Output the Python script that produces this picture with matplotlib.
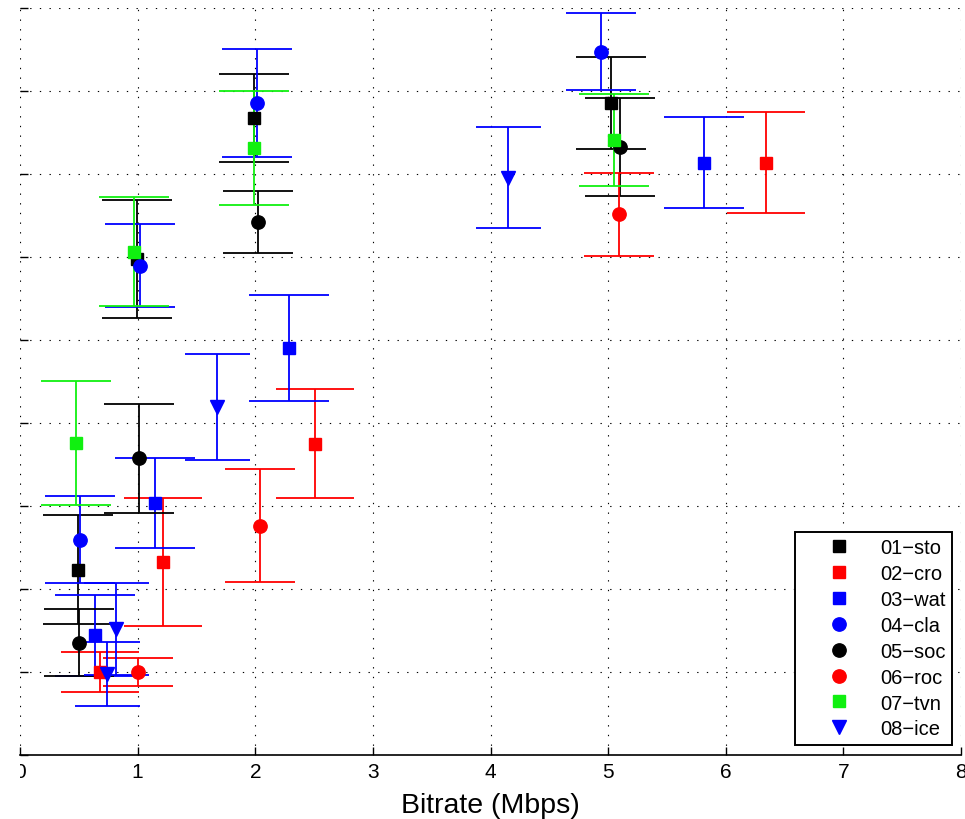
import matplotlib
matplotlib.use("Agg")
import matplotlib.pyplot as plt
from matplotlib.lines import Line2D
from matplotlib.transforms import Bbox, TransformedBbox

plt.rcParams["font.family"] = ["Liberation Sans", "DejaVu Sans"]

# bitrate (Mbps), quality score, error half-width for each sequence
sto_rate = [0.495, 0.998, 1.99, 5.025]
sto_score = [22.3, 59.7, 76.7, 78.5]
sto_err = [6.58, 7.06, 5.34, 5.52]

cro_rate = [0.68, 1.215, 2.508, 6.34]
cro_score = [9.96, 23.2, 37.45, 71.3]
cro_err = [2.41, 7.71, 6.56, 6.08]

wat_rate = [0.64, 1.147, 2.284, 5.818]
wat_score = [14.36, 30.3, 49.0, 71.3]
wat_err = [4.88, 5.40, 6.35, 5.48]

cla_rate = [0.509, 1.02, 2.012, 4.94]
cla_score = [25.9, 58.9, 78.5, 84.7]
cla_err = [5.24, 4.97, 6.56, 4.61]

soc_rate = [0.503, 1.011, 2.026, 5.10]
soc_score = [13.5, 35.7, 64.2, 73.2]
soc_err = [4.04, 6.54, 3.71, 5.94]

roc_rate = [1.005, 2.04, 5.093]
roc_score = [9.96, 27.6, 65.1]
roc_err = [1.69, 6.83, 4.97]

tvn_rate = [0.475, 0.969, 1.989, 5.048]
tvn_score = [37.5, 60.6, 73.1, 74.0]
tvn_err = [7.47, 6.56, 6.89, 5.54]

ice_rate = [0.741, 0.813, 1.672, 4.149]
ice_score = [9.72, 15.1, 41.9, 69.5]
ice_err = [3.85, 5.54, 6.35, 6.11]

GREEN = "#10f010"
series = [
    ("01\u2212sto", sto_rate, sto_score, sto_err, "k", "s", 8.4, 25.2),
    ("02\u2212cro", cro_rate, cro_score, cro_err, "#ff0000", "s", 8.4, 28.2),
    ("03\u2212wat", wat_rate, wat_score, wat_err, "#0000ff", "s", 8.4, 29.0),
    ("04\u2212cla", cla_rate, cla_score, cla_err, "#0000ff", "o", 9.6, 25.0),
    ("05\u2212soc", soc_rate, soc_score, soc_err, "k", "o", 9.6, 25.4),
    ("06\u2212roc", roc_rate, roc_score, roc_err, "#ff0000", "o", 9.6, 25.2),
    ("07\u2212tvn", tvn_rate, tvn_score, tvn_err, GREEN, "s", 8.4, 25.2),
    ("08\u2212ice", ice_rate, ice_score, ice_err, "#0000ff", "v", 10.5, 23.4),
]

fig = plt.figure(figsize=(9.65, 8.2), dpi=100)
fig.set_facecolor("white")
ax = fig.add_axes([0.0208, 0.0784, 0.975, 0.9112])

handles = []
for name, x, y, e, col, mk, ms, cap in series:
    ax.errorbar(x, y, yerr=e, fmt=mk, color=col, ecolor=col, ms=ms,
                mec=col, mfc=col, elinewidth=1.3, capsize=cap, capthick=1.3)
    handles.append(Line2D([], [], ls="none", marker=mk, color=col,
                          ms=ms, mec=col, mfc=col))

ax.set_xlim(0, 8)
ax.set_ylim(0, 90)
ax.set_xticks(range(0, 9))
ax.set_yticks(range(0, 91, 10))
ax.grid(True, color="k", lw=0.8, ls=(0, (1.2, 7.5)))
ax.set_axisbelow(True)
ax.tick_params(direction="in", length=6, width=1, labelsize=15, pad=5,
               labelleft=False)
for side in ("top", "right", "left"):
    ax.spines[side].set_visible(False)
ax.spines["bottom"].set_linewidth(1.2)
ax.set_xlabel("Bitrate (Mbps)", fontsize=20.5, labelpad=8)

# the "0" label sits on the left edge of the plot area: cut it there
zero_lbl = ax.xaxis.get_major_ticks()[0].label1
zero_lbl.set_clip_box(TransformedBbox(Bbox([[0, -1], [1, 1]]), ax.transAxes))
zero_lbl.set_clip_on(True)

leg = ax.legend(handles, [s[0] for s in series], loc="lower right",
                bbox_to_anchor=(0.9904, 0.013), fontsize=14.5,
                frameon=True, fancybox=False, framealpha=1,
                handlelength=3.8, handletextpad=0.1, labelspacing=0.34,
                borderpad=0.33, borderaxespad=0)
leg.get_frame().set_edgecolor("k")
leg.get_frame().set_linewidth(1.4)

fig.savefig("out.png", dpi=100, facecolor="white")
